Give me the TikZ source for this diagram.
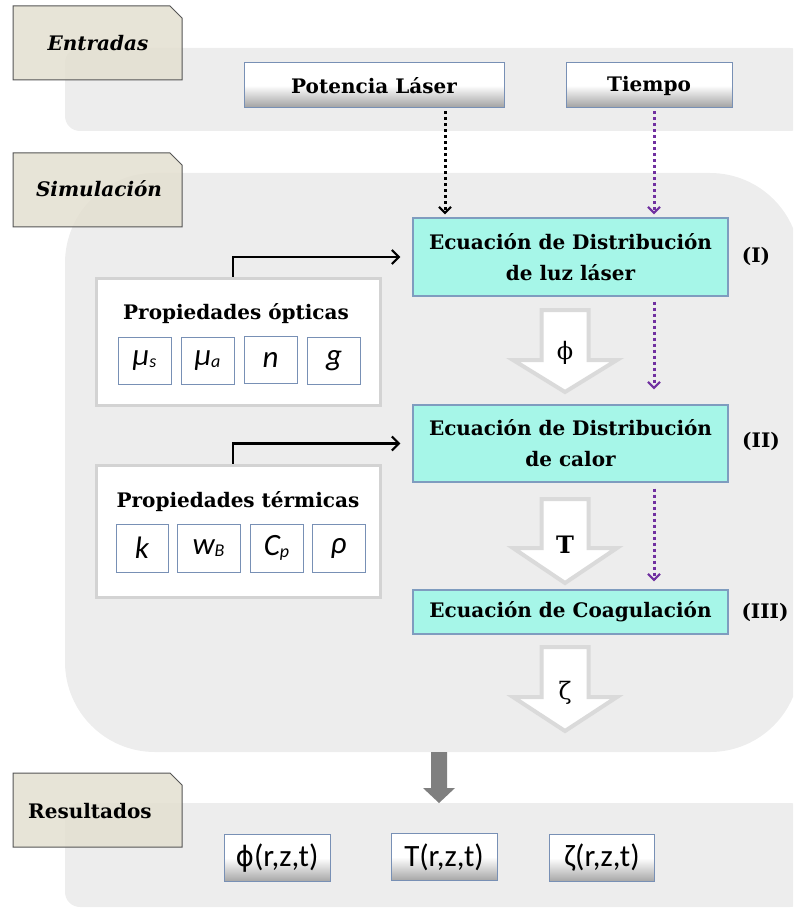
\documentclass[tikz,border=0pt]{standalone}
\usepackage{fontspec}
\setmainfont{DejaVu Serif}
\newfontfamily\calib{Carlito}
\newfontfamily\dvsans{DejaVu Sans}
\usetikzlibrary{arrows.meta}
\definecolor{panelgray}{HTML}{EDEDED}
\definecolor{tagfill}{HTML}{E3DFD0}
\definecolor{tagline}{HTML}{555555}
\definecolor{eqfill}{HTML}{A6F6E8}
\definecolor{eqline}{HTML}{7F9CBF}
\definecolor{subline}{HTML}{7890B5}
\definecolor{propline}{HTML}{D3D3D3}
\definecolor{purp}{HTML}{7030A0}
\definecolor{fatline}{HTML}{DADADA}
\definecolor{darkarrow}{HTML}{7F7F7F}
\newcommand\FatDown[4]{%
  \draw[fat] (#1-23.5,#2) -- (#1+23.5,#2) -- (#1+23.5,#3) -- (#1+52,#3) -- (#1,#4) -- (#1-52,#3) -- (#1-23.5,#3) -- cycle;}
\newcommand\TagShape[2]{%
  \filldraw[tagstyle] (13,#1) -- (170,#1) -- (182,#1+12) -- (182,#2) -- (13,#2) -- cycle;}
\newcommand\SubIdx[1]{\raisebox{-2pt}{\fontsize{18}{18}\selectfont #1}}
\begin{document}
\begin{tikzpicture}[x=1pt,y=-1pt,
  tagstyle/.style={fill=tagfill, fill opacity=0.85, draw=tagline, line width=1pt},
  tagtext/.style={font=\fontsize{20}{24}\selectfont\bfseries\itshape},
  inbox/.style={draw=subline, line width=1pt, top color=white, bottom color=gray!75, middle color=white,
    font=\fontsize{20}{24}\selectfont\bfseries, inner sep=0pt},
  eqbox/.style={draw=eqline, fill=eqfill, line width=1.2pt, minimum width=315pt, align=center,
    font=\fontsize{20}{31}\selectfont\bfseries, inner sep=0pt},
  numlab/.style={font=\fontsize{20}{24}\selectfont\bfseries},
  propbox/.style={draw=propline, fill=white, line width=3pt, minimum width=284pt, inner sep=0pt},
  proptitle/.style={font=\fontsize{20}{24}\selectfont\bfseries},
  subbox/.style={draw=subline, fill=white, line width=1pt, minimum height=47pt, inner sep=0pt,
    font=\fontsize{31}{34}\selectfont\calib\itshape},
  resbox/.style={draw=subline, line width=1pt, top color=white, bottom color=gray!70, middle color=white,
    minimum width=106pt, minimum height=47pt, inner sep=0pt, font=\fontsize{31}{34}\selectfont\calib},
  conn/.style={draw=black, line width=2.5pt, -{Straight Barb[length=7pt,width=14pt,line width=2.2pt]}},
  dotconn/.style={line width=3pt, dash pattern=on 3pt off 3pt, -{Straight Barb[length=6pt,width=12pt,line width=2.2pt]}},
  fat/.style={draw=fatline, fill=white, line width=4pt, line join=miter},
  fatlab/.style={font=\fontsize{24}{26}\selectfont}
]
\useasboundingbox (0,0) rectangle (793,909);
% panels
\begin{scope}
  \clip (0,0) rectangle (793,909);
  \fill[panelgray, rounded corners=15pt] (65,48) rectangle (805,131);
  \fill[panelgray, rounded corners=90pt] (65,173) rectangle (800,752);
  \fill[panelgray, rounded corners=15pt] (65,803) rectangle (805,907);
\end{scope}
% tags
\TagShape{6}{80}
\node[tagtext] (entradas) at (98,43) {Entradas};
\TagShape{153}{227}
\node[tagtext] (simulacion) at (99,189) {Simulación};
\TagShape{773}{847}
\node[font=\fontsize{20}{24}\selectfont\bfseries] (resultados) at (90,811) {Resultados};

% input boxes
\node[inbox, minimum width=260pt, minimum height=45pt] (pot) at (374,85.5) {Potencia Láser};
\node[inbox, minimum width=166pt, minimum height=45pt] (tiempo) at (649,85.5) {Tiempo};

% equation boxes
\node[eqbox, minimum height=78pt] (eq1) at (570.5,257) {Ecuación de Distribución\\de luz láser};
\node[eqbox, minimum height=77pt] (eq2) at (570.5,443.5) {Ecuación de Distribución\\de calor};
\node[eqbox, minimum height=44pt] (eq3) at (570.5,612) {Ecuación de Coagulación};
\node[numlab] (n1) at (756,256) {(I)};
\node[numlab] (n2) at (761,441) {(II)};
\node[numlab] (n3) at (765,612) {(III)};

% property boxes
\node[propbox, minimum height=127pt] (opt) at (238,341.5) {};
\node[proptitle] (optt) at (236,314) {Propiedades ópticas};
\node[subbox, minimum width=53pt] (mus) at (144.5,360.5) {μ\SubIdx{s}};
\node[subbox, minimum width=53pt] (mua) at (207.5,360.5) {μ\SubIdx{a}};
\node[subbox, minimum width=53pt] (nn) at (270.5,360) {n};
\node[subbox, minimum width=53pt] (gg) at (334,360.5) {g};

\node[propbox, minimum height=132pt] (ter) at (238,531) {};
\node[proptitle] (tert) at (238,502) {Propiedades térmicas};
\node[subbox, minimum width=52pt, minimum height=48pt] (kk) at (142,548) {k};
\node[subbox, minimum width=63pt, minimum height=48pt] (wb) at (208.5,548) {w\SubIdx{B}};
\node[subbox, minimum width=53pt, minimum height=48pt] (cp) at (276.5,548) {C\SubIdx{p}};
\node[subbox, minimum width=53pt, minimum height=48pt] (rho) at (338.5,548) {ρ};

% elbow connectors
\draw[conn, shorten >=12pt] ([xshift=-5pt]opt.north) |- (eq1.west);
\draw[conn, shorten >=12pt] ([xshift=-5pt]ter.north) |- (eq2.west);

% dotted connectors
\draw[dotconn, black, shorten <=3pt, shorten >=3pt] ([xshift=71pt]pot.south) -- ([xshift=-125.5pt]eq1.north);
\draw[dotconn, purp, shorten <=3pt, shorten >=3pt] ([xshift=5pt]tiempo.south) -- ([xshift=83.5pt]eq1.north);
\draw[dotconn, purp, shorten <=5pt, shorten >=15pt] ([xshift=83.5pt]eq1.south) -- ([xshift=83.5pt]eq2.north);
\draw[dotconn, purp, shorten <=6pt, shorten >=8pt] ([xshift=83.5pt]eq2.south) -- ([xshift=83.5pt]eq3.north);

% fat arrows
\FatDown{565}{310}{360}{392}
\node[fatlab] (phi) at (565,353) {ϕ};
\FatDown{565}{499}{548}{583}
\node[fatlab, font=\fontsize{24}{26}\selectfont\bfseries] (tt) at (565,545) {T};
\FatDown{565}{647}{697}{731}
\node[fatlab] (zeta) at (565,693) {ζ};

% dark arrow to results
\fill[darkarrow] (431,752) -- (447,752) -- (447,788) -- (455,788) -- (439,803) -- (423,788) -- (431,788) -- cycle;

% result boxes
\node[resbox] (rphi) at (277,858) {{\dvsans\fontsize{28}{30}\selectfont ϕ}(r,z,t)};
\node[resbox] (rt) at (444,857) {T(r,z,t)};
\node[resbox, minimum width=105pt] (rz) at (602,858) {ζ(r,z,t)};
\end{tikzpicture}
\end{document}
